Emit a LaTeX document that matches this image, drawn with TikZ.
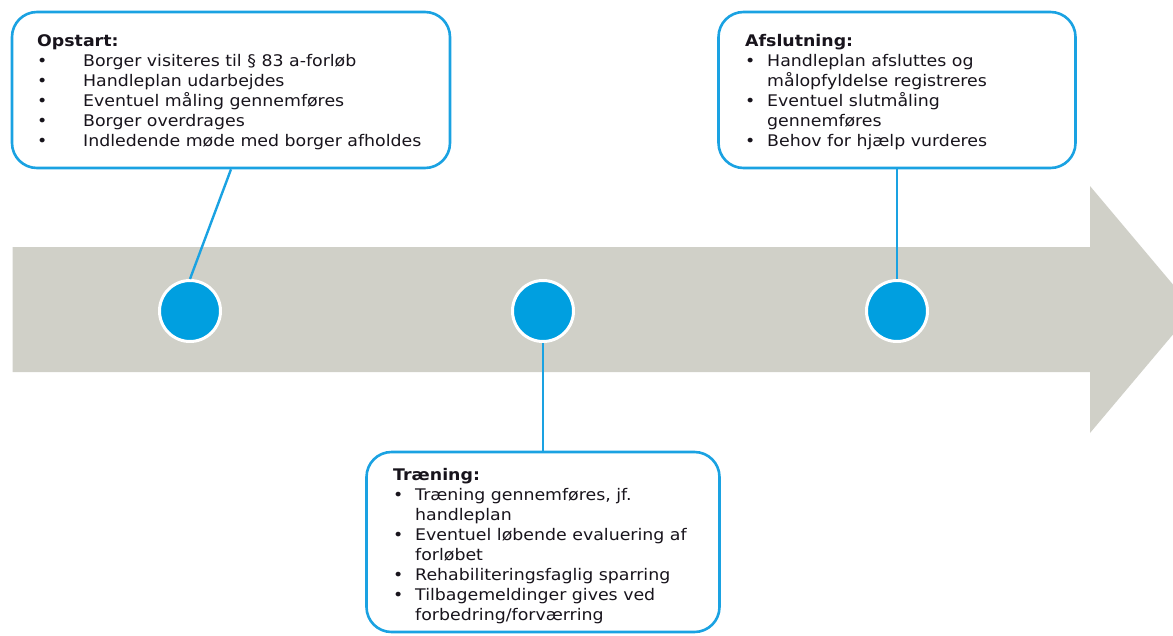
\documentclass[tikz,border=0pt]{standalone}
\usepackage{fontspec}
\setmainfont{DejaVu Sans}[FakeStretch=1.085]
\usepackage{array}
\definecolor{arrowgray}{HTML}{D0D0C8}
\definecolor{dotblue}{HTML}{009FE0}
\definecolor{boxblue}{HTML}{1AA2E2}
\definecolor{txtcol}{HTML}{18141C}
\tikzset{
  phasebox/.style={draw=boxblue, line width=2.6pt, rounded corners=25pt, fill=white, inner sep=0pt},
  phasetxt/.style={inner sep=0pt, anchor=base west, text=txtcol, font=\fontsize{16}{20.1}\selectfont},
  dot/.style={circle, fill=dotblue, draw=white, line width=3pt, minimum size=61pt, inner sep=0pt},
  link/.style={draw=boxblue, line width=2.4pt}
}
\begin{document}
\begin{tikzpicture}[x=1pt,y=-1pt]
\useasboundingbox (0,0) rectangle (1173,635);
\clip (0,0) rectangle (1173,635);
% timeline arrow
\fill[arrowgray] (12.5,247) -- (1090,247) -- (1090,186) -- (1194,309.5) -- (1090,433) -- (1090,372) -- (12.5,372) -- cycle;
% dots
\node[dot] (c1) at (190,311) {};
\node[dot] (c2) at (543,311) {};
\node[dot] (c3) at (897,311) {};
% boxes
\node[phasebox, minimum width=438pt, minimum height=156pt] (opbox) at (231,90) {};
\node[phasebox, minimum width=357pt, minimum height=156pt] (afbox) at (897,90) {};
\node[phasebox, minimum width=353pt, minimum height=180pt] (trbox) at (543,542) {};
% connectors
\draw[link] (opbox.south) -- (c1.north);
\draw[link] (afbox.south) -- (c3.north);
\draw[link] (c2.south) -- (trbox.north);
% texts
\node[phasetxt] (optxt) at (37,46) {\begin{tabular}[t]{@{}p{46pt}@{}l@{}}
\multicolumn{2}{@{}l@{}}{\textbf{Opstart:}}\\
\textbullet & Borger visiteres til § 83 a-forløb\\
\textbullet & Handleplan udarbejdes\\
\textbullet & Eventuel måling gennemføres\\
\textbullet & Borger overdrages\\
\textbullet & Indledende møde med borger afholdes
\end{tabular}};
\node[phasetxt] (aftxt) at (745,46) {\begin{tabular}[t]{@{}p{22pt}@{}l@{}}
\multicolumn{2}{@{}l@{}}{\textbf{Afslutning:}}\\
\textbullet & Handleplan afsluttes og\\
 & målopfyldelse registreres\\
\textbullet & Eventuel slutmåling\\
 & gennemføres\\
\textbullet & Behov for hjælp vurderes
\end{tabular}};
\node[phasetxt] (trtxt) at (393,480) {\begin{tabular}[t]{@{}p{22pt}@{}l@{}}
\multicolumn{2}{@{}l@{}}{\textbf{Træning:}}\\
\textbullet & Træning gennemføres, jf.\\
 & handleplan\\
\textbullet & Eventuel løbende evaluering af\\
 & forløbet\\
\textbullet & Rehabiliteringsfaglig sparring\\
\textbullet & Tilbagemeldinger gives ved\\
 & forbedring/forværring
\end{tabular}};
\end{tikzpicture}
\end{document}
